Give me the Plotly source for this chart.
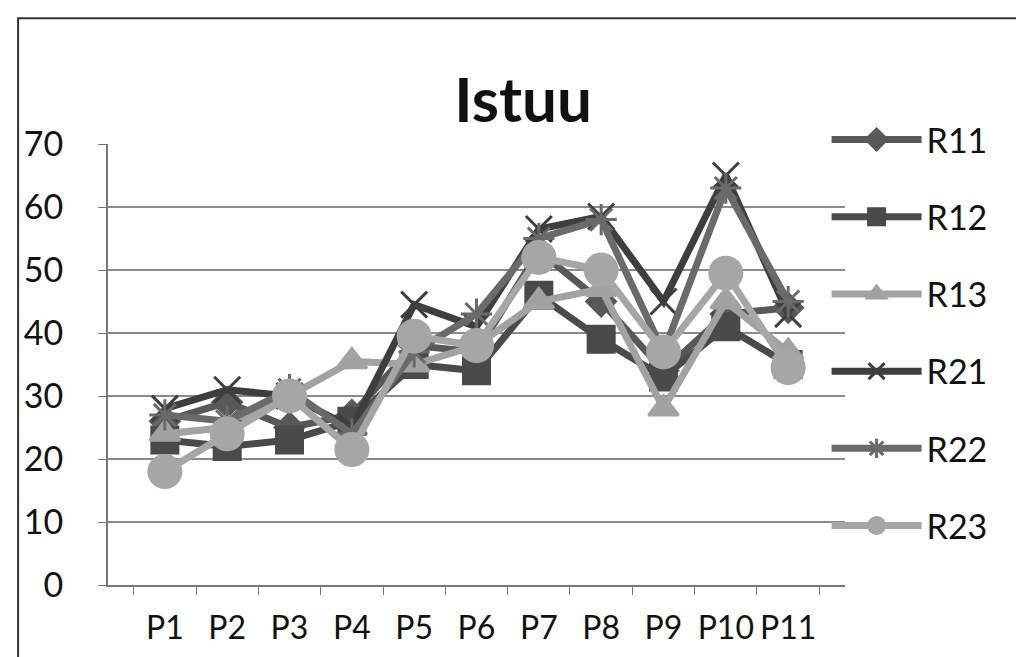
import plotly.graph_objects as go

# categories and series
categories = ["P1", "P2", "P3", "P4", "P5", "P6", "P7", "P8", "P9", "P10", "P11"]
R11 = [26, 29, 25, 27, 38, 37, 53, 45, 34, 43, 44]
R12 = [23, 22, 23, 26, 35, 34, 46, 39, 33, 41, 35]
R13 = [24, 25, 30, 35.5, 35, 38, 45, 47, 28, 45, 37]
R21 = [28, 31, 30, 25, 44.5, 41, 56.5, 58.5, 45, 65, 43]
R22 = [27, 26, 31, 24, 37, 43, 55, 58, 37, 63, 45]
R23 = [18, 24, 30, 21.5, 39.5, 38, 52, 50, 37, 49.5, 34.5]

series = [
    ("R11", R11, "#585858", "diamond", 22),
    ("R12", R12, "#4a4a4a", "square", 26),
    ("R13", R13, "#a2a2a2", "triangle-up", 26),
    ("R21", R21, "#3e3e3e", "x-thin-open", 26),
    ("R22", R22, "#6a6a6a", "asterisk-open", 26),
    ("R23", R23, "#a6a6a6", "circle", 32),
]

fig = go.Figure()
for name, vals, col, sym, size in series:
    fig.add_trace(go.Scatter(
        x=categories, y=vals, name=name, legendgroup=name,
        mode="lines+markers",
        line=dict(color=col, width=7),
        marker=dict(symbol=sym, size=size, color=col,
                    line=dict(color=col, width=3)),
    ))

fig.update_layout(
    width=1024, height=657,
    margin=dict(l=100, r=187, t=136, b=80),
    paper_bgcolor="white", plot_bgcolor="white",
    font=dict(family="Lato, Open Sans, sans-serif", color="#111111", size=34),
    title=dict(text="<b>Istuu</b>", x=0.503, xanchor="center", xref="container",
               y=0.86, yanchor="middle", font=dict(size=62, color="#111111")),
    legend=dict(x=0.975, xanchor="left", y=1.075, yanchor="top",
                font=dict(size=34), tracegroupgap=30, maxheight=600,
                itemwidth=90, bgcolor="rgba(0,0,0,0)"),
    showlegend=True,
)
fig.update_xaxes(
    type="category", showgrid=False, showline=True, linecolor="#777777", linewidth=2,
    ticks="outside", tickson="boundaries", ticklen=8, tickcolor="#777777",
    tickfont=dict(size=32), tickangle=0, ticklabelstandoff=14,
)
fig.update_yaxes(
    range=[0, 70], dtick=10, showgrid=True, gridcolor="#8a8a8a", gridwidth=1.5,
    showline=True, linecolor="#777777", linewidth=2, zeroline=False,
    ticks="outside", ticklen=8, tickcolor="#777777", tickfont=dict(size=34),
    ticklabelstandoff=28,
)
# outer frame of the chart
fig.add_shape(type="rect", xref="paper", yref="paper",
              x0=-0.122, x1=1.235, y0=-0.166, y1=1.285,
              line=dict(color="#333333", width=2), layer="below")

fig.write_html("out.html")
